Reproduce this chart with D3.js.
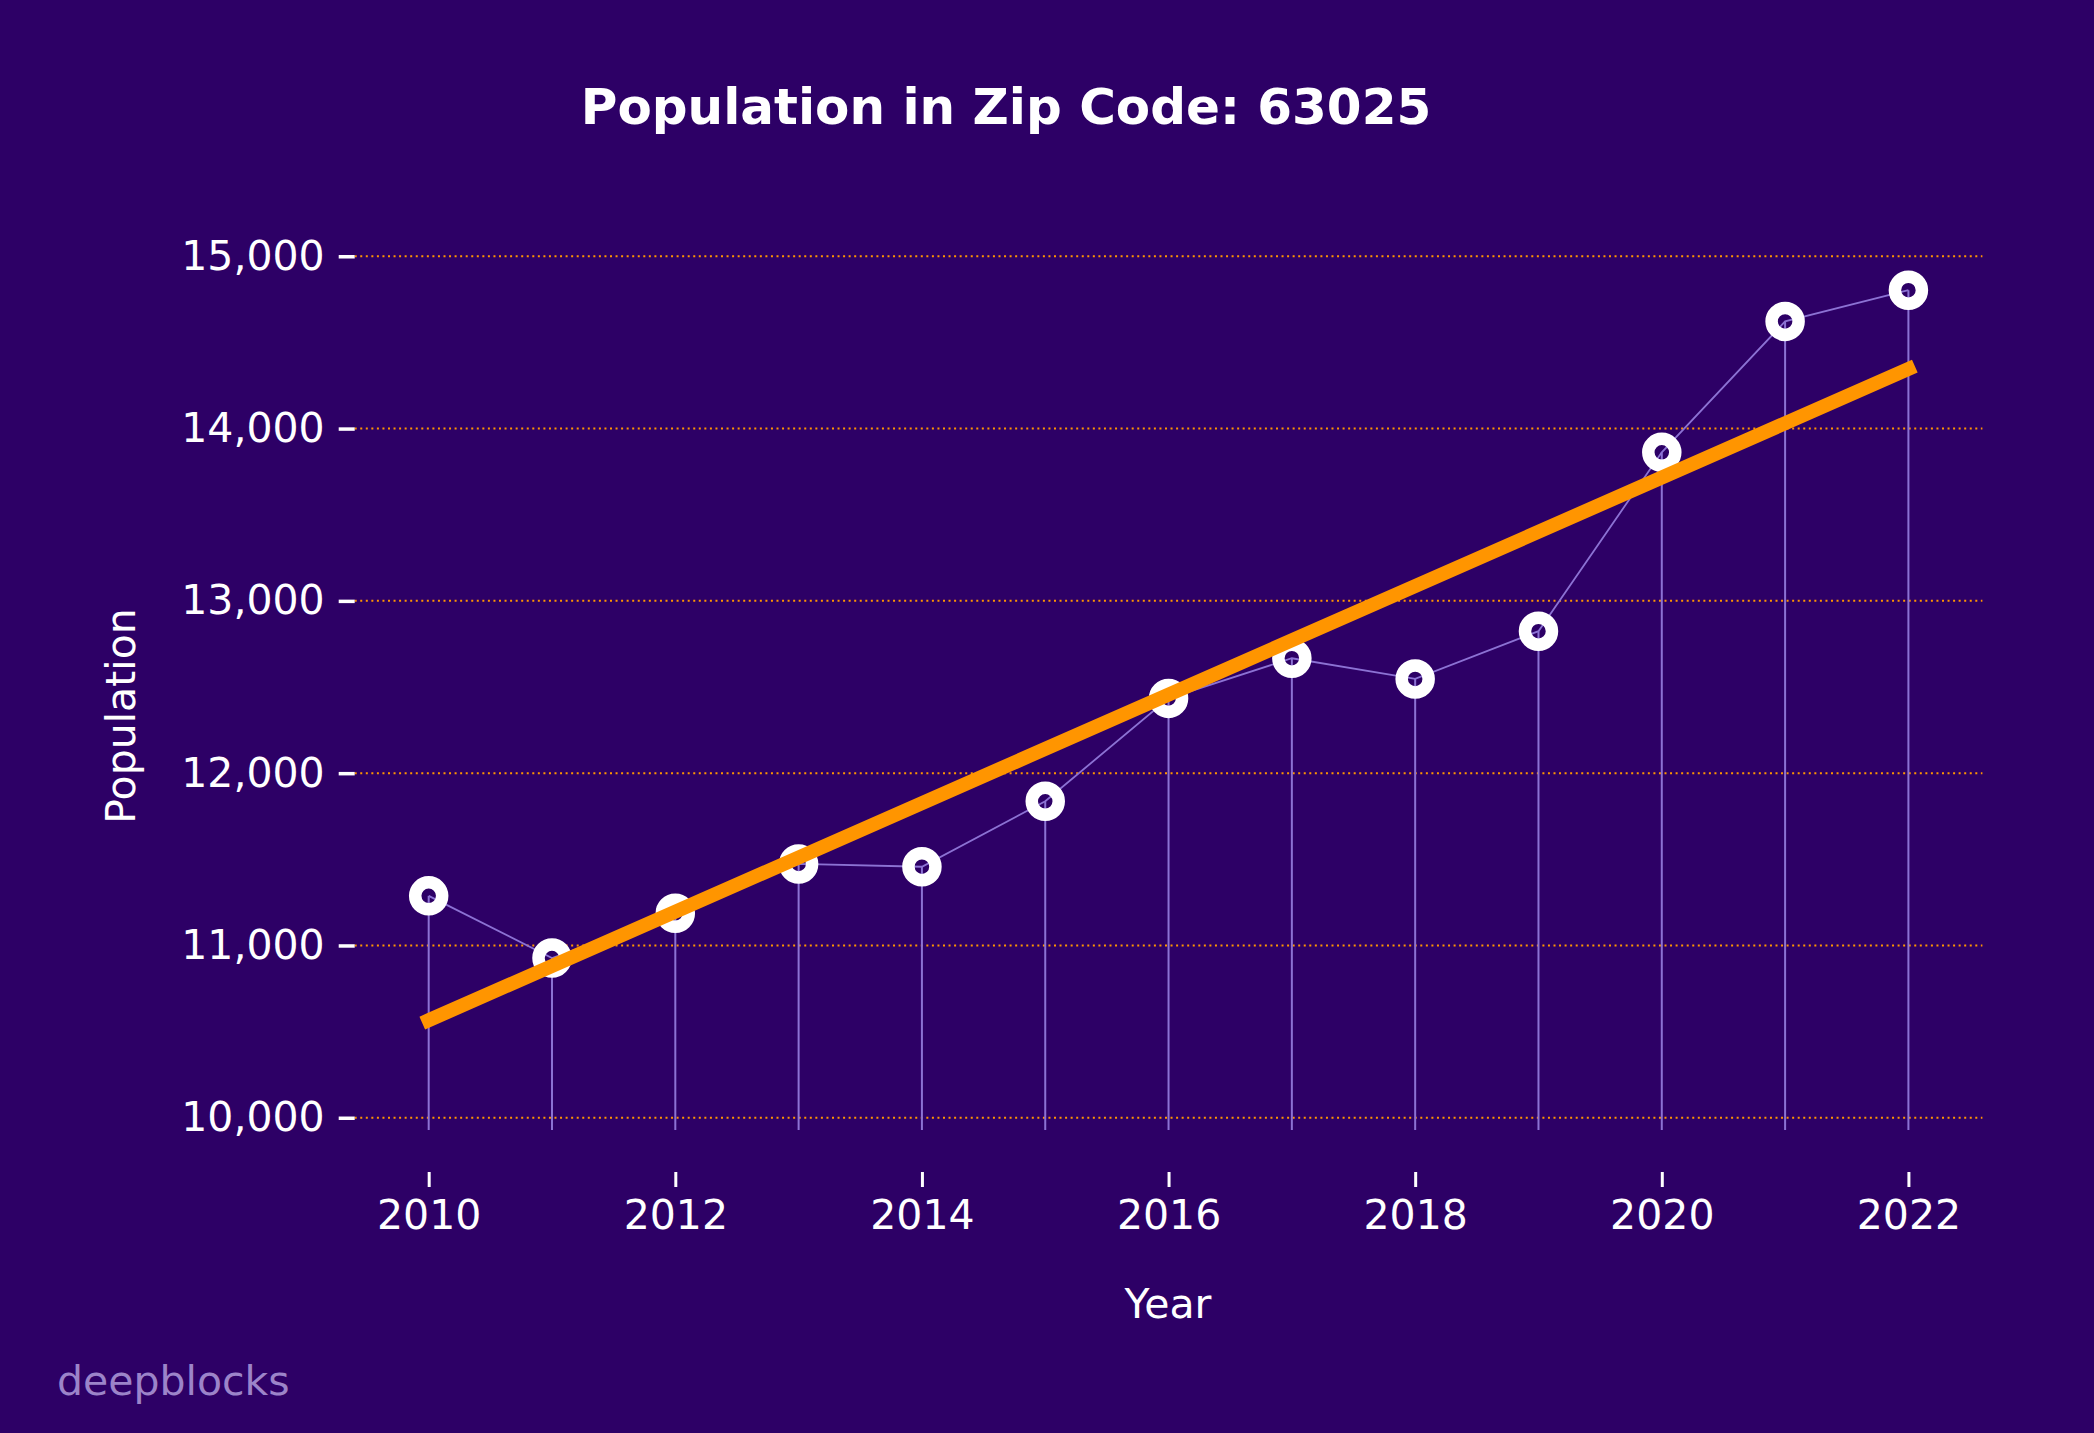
<!DOCTYPE html>
<html>
<head>
<meta charset="utf-8">
<script src="https://cdn.jsdelivr.net/npm/d3@7"></script>
<style>
  html, body { margin: 0; padding: 0; background: #2d0066; }
  svg { display: block; font-family: "DejaVu Sans", sans-serif; }
</style>
</head>
<body>
<svg id="chart" width="2094" height="1433"></svg>
<script>
const years = [2010, 2011, 2012, 2013, 2014, 2015, 2016, 2017, 2018, 2019, 2020, 2021, 2022]
const population = [11288, 10927, 11187, 11473, 11457, 11837, 12434, 12667, 12547, 12824, 13862, 14622, 14803]
const xTicks = [2010, 2012, 2014, 2016, 2018, 2020, 2022]
const yTicks = [10000, 11000, 12000, 13000, 14000, 15000]

const width = 2094, height = 1433
const bg = '#2d0066'
const stemColor = '#8c72d4'
const orange = '#ff9500'

const svg = d3.select('#chart')
svg.append('rect').attr('width', width).attr('height', height).attr('fill', bg)

const xScale = d3.scaleLinear()
                 .domain([2009.4, 2022.6])
                 .range([354.7, 1982.4])

const yMin = 9929
const yScale = d3.scaleLinear()
                 .domain([yMin, 15120])
                 .range([1130, 235.6])

// dotted horizontal grid
svg.append('g')
   .selectAll('line')
   .data(yTicks)
   .enter()
   .append('line')
   .attr('x1', xScale.range()[0])
   .attr('x2', xScale.range()[1])
   .attr('y1', d => yScale(d))
   .attr('y2', d => yScale(d))
   .attr('stroke', orange)
   .attr('stroke-width', 2)
   .attr('stroke-dasharray', '2,3.55')

// y axis (ticks + labels only)
const yAxis = d3.axisLeft(yScale)
                .tickValues(yTicks)
                .tickSize(16)
                .tickPadding(14)
                .tickFormat(d3.format(','))
const gy = svg.append('g')
              .attr('transform', 'translate(' + xScale.range()[0] + ',0)')
              .call(yAxis)
gy.select('.domain').remove()
gy.selectAll('line').attr('stroke', '#fff').attr('stroke-width', 3.5)
gy.selectAll('text').attr('fill', '#fff').attr('font-size', 41).attr('font-family', '"DejaVu Sans"')

// x axis, offset below the plot
const xAxis = d3.axisBottom(xScale)
                .tickValues(xTicks)
                .tickSize(15)
                .tickPadding(13)
                .tickFormat(d3.format('d'))
const gx = svg.append('g')
              .attr('transform', 'translate(0,1172)')
              .call(xAxis)
gx.select('.domain').remove()
gx.selectAll('line').attr('stroke', '#fff').attr('stroke-width', 3)
gx.selectAll('text').attr('fill', '#fff').attr('font-size', 41).attr('font-family', '"DejaVu Sans"')

const data = years.map((y, i) => ({year: y, value: population[i]}))

// stems
svg.append('g')
   .selectAll('line')
   .data(data)
   .enter()
   .append('line')
   .attr('x1', d => xScale(d.year))
   .attr('x2', d => xScale(d.year))
   .attr('y1', d => yScale(d.value))
   .attr('y2', yScale(yMin))
   .attr('stroke', stemColor)
   .attr('stroke-width', 2)

// connecting line
const line = d3.line()
               .x(d => xScale(d.year))
               .y(d => yScale(d.value))
svg.append('path')
   .datum(data)
   .attr('d', line)
   .attr('fill', 'none')
   .attr('stroke', stemColor)
   .attr('stroke-width', 1.8)

// ring markers
svg.append('g')
   .selectAll('circle')
   .data(data)
   .enter()
   .append('circle')
   .attr('cx', d => xScale(d.year))
   .attr('cy', d => yScale(d.value))
   .attr('r', 13.5)
   .attr('fill', 'none')
   .attr('stroke', '#fff')
   .attr('stroke-width', 12.5)

// least squares trend line
const meanX = d3.mean(years)
const meanY = d3.mean(population)
const slope = d3.sum(data, d => (d.year - meanX) * (d.value - meanY)) / d3.sum(years, y => (y - meanX) ** 2)
const trend = years.map(y => ({year: y, value: meanY + slope * (y - meanX)}))
svg.append('path')
   .datum([trend[0], trend[trend.length - 1]])
   .attr('d', line)
   .attr('fill', 'none')
   .attr('stroke', orange)
   .attr('stroke-width', 14)
   .attr('stroke-linecap', 'square')

// titles
svg.append('text')
   .attr('x', 1006)
   .attr('y', 124)
   .attr('text-anchor', 'middle')
   .attr('fill', '#fff')
   .attr('font-size', 50)
   .attr('font-weight', 'bold')
   .text('Population in Zip Code: 63025')

svg.append('text')
   .attr('x', 1168)
   .attr('y', 1318)
   .attr('text-anchor', 'middle')
   .attr('fill', '#fff')
   .attr('font-size', 41)
   .text('Year')

svg.append('text')
   .attr('transform', 'translate(135,716) rotate(-90)')
   .attr('text-anchor', 'middle')
   .attr('fill', '#fff')
   .attr('font-size', 41)
   .text('Population')

svg.append('text')
   .attr('x', 57)
   .attr('y', 1395)
   .attr('fill', '#9c84c9')
   .attr('font-size', 41)
   .text('deepblocks')
</script>
</body>
</html>
